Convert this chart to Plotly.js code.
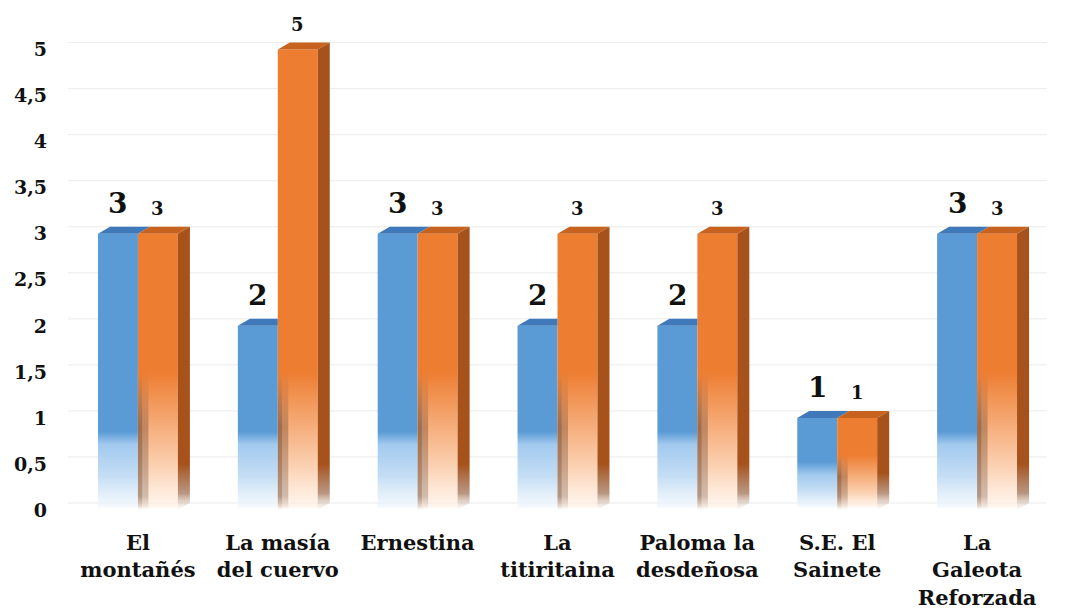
<!DOCTYPE html>
<html>
<head>
<meta charset="utf-8">
<script src="https://cdn.plot.ly/plotly-3.0.1.min.js"></script>
<style>
  html, body { margin: 0; padding: 0; background: #fff; }
  #chart { width: 1067px; height: 612px; }
</style>
</head>
<body>
<div id="chart"></div>
<script>
// Obras por categoría: dos series comparadas
const categories = ["El<br>montañés", "La masía<br>del cuervo", "Ernestina", "La<br>titiritaina",
                    "Paloma la<br>desdeñosa", "S.E. El<br>Sainete", "La<br>Galeota<br>Reforzada"];
const seriesBlue = [3, 2, 3, 2, 2, 1, 3];
const seriesOrange = [3, 5, 3, 3, 3, 1, 3];
const yTickValues = [0, 0.5, 1, 1.5, 2, 2.5, 3, 3.5, 4, 4.5, 5];
const yTickLabels = ["0", "0,5", "1", "1,5", "2", "2,5", "3", "3,5", "4", "4,5", "5"];

const positions = categories.map((_, i) => i);

// bar geometry (in axis units) and the fake 3-D depth
const BAR_W = 0.2857;
const DEPTH_X = 0.086;
const DEPTH_Y = 0.076;
const EDGE_WIDTHS = [0.03, 0.075];

const FONT = "DejaVu Serif";
const INK = "#111111";
const BLUE = "#5b9bd5", BLUE_TOP = "#3f79ba";
const ORANGE = "#ed7d31", ORANGE_TOP = "#c8631f", ORANGE_SIDE = "#a7521b";
const SHADOW = "#6a4530";

const traces = [
  { type: "bar", x: positions, y: seriesBlue, width: BAR_W, offset: -BAR_W,
    marker: { color: BLUE, line: { width: 0 } }, hoverinfo: "skip" },
  { type: "bar", x: positions, y: seriesOrange, width: BAR_W, offset: 0,
    marker: { color: ORANGE, line: { width: 0 } }, hoverinfo: "skip" }
];

// fade profiles: [axis value, colour, opacity], top to bottom
const orangeFadeTop = v => Math.min(v, 1.5, 0.6 * v);
const blueFade = v => {
  const t = Math.min(0.8, 0.47 * v);
  return [[t + 0.05, BLUE, 1], [t - 0.09, "#a2caef", 1], [t * 0.45, "#c5def5", 1],
          [0.04, "#eef5fc", 0.7], [0, "#ffffff", 0]];
};
const orangeFade = v => {
  const t = orangeFadeTop(v);
  return [[t, ORANGE, 1], [t * 0.55, "#f7b485", 1], [t * 0.3, "#fbd3b5", 1],
          [0.04, "#fff0e4", 0.7], [0, "#ffffff", 0]];
};
const sideFade = v => {
  const t = Math.min(0.5, 0.4 * v);
  return [[t, ORANGE_SIDE, 1], [0.18, "#9c6a4b", 0.7], [0.02, "#c9a58c", 0.1], [0, "#ffffff", 0]];
};
const edgeFade = v => {
  const t = orangeFadeTop(v);
  return [[t, SHADOW, 0], [t * 0.6, SHADOW, 0.38], [0.15, SHADOW, 0.3], [0, SHADOW, 0]];
};

const shapes = [];
// back-wall grid lines
yTickValues.forEach(v => {
  shapes.push({ type: "line", xref: "paper", yref: "y", x0: 0, x1: 1,
    y0: v + DEPTH_Y, y1: v + DEPTH_Y, layer: "below",
    line: { color: "#ebebeb", width: 1 } });
});

const fades = [];  // [shape index, stops]
const P = (x, y) => x + "," + y;
const face = (pts, color) => ({ type: "path", xref: "x", yref: "y", layer: "above",
  line: { width: 0 }, fillcolor: color,
  path: "M" + pts.map(p => P(p[0], p[1])).join("L") + "Z" });

positions.forEach(i => {
  const b = seriesBlue[i], o = seriesOrange[i];
  const bl = i - BAR_W, br = i;
  // blue top face (the part hidden behind a taller orange bar is cut off)
  const bTopRight = o > b ? br : br + DEPTH_X;
  shapes.push(face([[bl, b], [bl + DEPTH_X, b + DEPTH_Y], [bTopRight, b + DEPTH_Y], [br, b]], BLUE_TOP));
  if (b > o) {
    shapes.push(face([[br, o], [br, b], [br + DEPTH_X, b + DEPTH_Y], [br + DEPTH_X, o + DEPTH_Y]], "#2f6aa8"));
  }
  const ol = i, or = i + BAR_W;
  // soft shadow along the left edge of the orange front
  EDGE_WIDTHS.forEach(w => {
    fades.push([shapes.length, edgeFade(o)]);
    shapes.push(face([[ol, 0], [ol, orangeFadeTop(o)], [ol + w, orangeFadeTop(o)], [ol + w, 0]], SHADOW));
  });
  shapes.push(face([[ol, o], [ol + DEPTH_X, o + DEPTH_Y], [or + DEPTH_X, o + DEPTH_Y], [or, o]], ORANGE_TOP));
  fades.push([shapes.length, sideFade(o)]);
  shapes.push(face([[or, 0], [or, o], [or + DEPTH_X, o + DEPTH_Y], [or + DEPTH_X, DEPTH_Y]], ORANGE_SIDE));
});

// value labels above each bar
const annotations = [];
positions.forEach(i => {
  annotations.push({ x: i - BAR_W / 2, y: seriesBlue[i], xref: "x", yref: "y",
    text: String(seriesBlue[i]), showarrow: false, yanchor: "bottom", yshift: 12,
    font: { family: FONT, size: 28, weight: 700, color: INK } });
  annotations.push({ x: i + BAR_W / 2, y: seriesOrange[i], xref: "x", yref: "y",
    text: String(seriesOrange[i]), showarrow: false, yanchor: "bottom", yshift: 13,
    font: { family: FONT, size: 18, weight: 700, color: INK } });
});

const layout = {
  width: 1067, height: 612,
  margin: { l: 67.5, r: 19.5, t: 22.4, b: 102 },
  paper_bgcolor: "#ffffff", plot_bgcolor: "#ffffff",
  barmode: "overlay",
  showlegend: false,
  font: { family: FONT, color: INK },
  xaxis: {
    range: [-0.5, 6.5], tickmode: "array", tickvals: positions, ticktext: categories,
    showgrid: false, zeroline: false, showline: false, ticks: "",
    ticklabelstandoff: 18,
    tickfont: { family: FONT, size: 21, weight: 700, color: INK }
  },
  yaxis: {
    range: [0, 5.3], tickmode: "array", tickvals: yTickValues, ticktext: yTickLabels,
    showgrid: false, zeroline: false, showline: false, ticks: "",
    ticklabelstandoff: 20,
    tickfont: { family: FONT, size: 19, weight: 700, color: INK }
  },
  shapes: shapes,
  annotations: annotations
};

const gd = document.getElementById("chart");
const NS = "http://www.w3.org/2000/svg";
let gradCount = 0;

// vertical gradient pinned to axis values, applied as the element's fill
function fadeFill(node, stops) {
  const svg = node.ownerSVGElement;
  let defs = svg.querySelector("defs");
  if (!defs) { defs = document.createElementNS(NS, "defs"); svg.insertBefore(defs, svg.firstChild); }
  const ya = gd._fullLayout.yaxis;
  const ctm = node.getCTM();
  const pix = v => ya._offset + ya.l2p(v) - (ctm ? ctm.f : 0);
  const y1 = pix(stops[0][0]), y2 = pix(stops[stops.length - 1][0]);
  const id = "fade" + (gradCount++);
  const g = document.createElementNS(NS, "linearGradient");
  g.setAttribute("id", id);
  g.setAttribute("gradientUnits", "userSpaceOnUse");
  g.setAttribute("x1", 0); g.setAttribute("x2", 0);
  g.setAttribute("y1", y1); g.setAttribute("y2", y2);
  stops.forEach(([v, c, a]) => {
    const s = document.createElementNS(NS, "stop");
    s.setAttribute("offset", Math.max(0, Math.min(1, (pix(v) - y1) / (y2 - y1))));
    s.setAttribute("stop-color", c);
    s.setAttribute("stop-opacity", a);
    g.appendChild(s);
  });
  defs.appendChild(g);
  node.style.fill = "url(#" + id + ")";
  node.style.fillOpacity = 1;
}

Plotly.newPlot(gd, traces, layout, { staticPlot: true }).then(() => {
  const groups = gd.querySelectorAll(".barlayer .trace");
  groups.forEach((grp, t) => {
    const vals = t === 0 ? seriesBlue : seriesOrange;
    grp.querySelectorAll(".point path").forEach((p, k) => {
      fadeFill(p, t === 0 ? blueFade(vals[k]) : orangeFade(vals[k]));
    });
  });
  fades.forEach(([k, stops]) => {
    const node = gd.querySelector('.shapelayer path[data-index="' + k + '"]');
    if (node) fadeFill(node, stops);
  });
});
</script>
</body>
</html>
